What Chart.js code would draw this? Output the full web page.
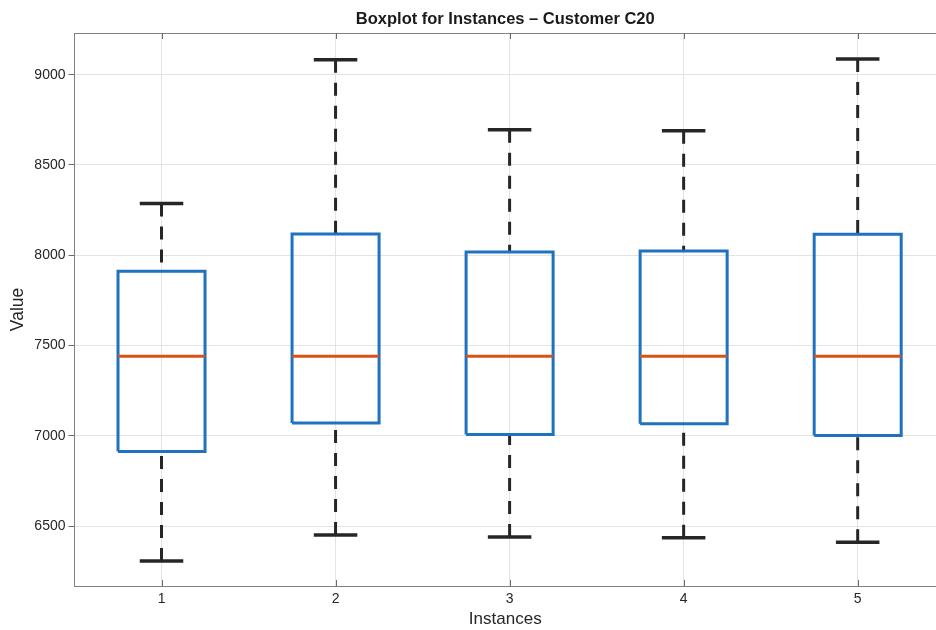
<!DOCTYPE html>
<html>
<head>
<meta charset="utf-8">
<script src="https://cdn.jsdelivr.net/npm/chart.js@4.4.1/dist/chart.umd.min.js"></script>
<style>
  html, body { margin: 0; padding: 0; background: #ffffff; }
  #wrap { width: 936px; height: 630px; }
</style>
</head>
<body>
<div id="wrap"><canvas id="c" width="936" height="630"></canvas></div>
<script>
// ---- data ----
const categories   = ['1', '2', '3', '4', '5'];
const categoryPos  = [1, 2, 3, 4, 5];
const whiskerLow   = [6306, 6450, 6439, 6435, 6410];
const quartile1    = [6913, 7071, 7007, 7066, 7002];
const medianVals   = [7441, 7441, 7441, 7441, 7441];
const quartile3    = [7911, 8118, 8018, 8024, 8116];
const whiskerHigh  = [8286, 9083, 8695, 8690, 9087];
const yTickValues  = [6500, 7000, 7500, 8000, 8500, 9000];

const chartTitle = 'Boxplot for Instances \u2013 Customer C20';
const xTitle = 'Instances';
const yTitle = 'Value';

// ---- styles ----
const BOX_HALF = 0.25;
const CAP_HALF = 0.125;
const boxColor = '#1f72bd';
const medColor = '#d95319';
const whiskColor = '#262626';
const fontFamily = '"Liberation Sans", Arial, Helvetica, sans-serif';

const datasets = [];
categoryPos.forEach((p, i) => {
  // median (on top)
  datasets.push({
    data: [{x: p - BOX_HALF, y: medianVals[i]}, {x: p + BOX_HALF, y: medianVals[i]}],
    borderColor: medColor, borderWidth: 3, order: 0
  });
  // box
  datasets.push({
    data: [
      {x: p - BOX_HALF, y: quartile1[i]}, {x: p + BOX_HALF, y: quartile1[i]},
      {x: p + BOX_HALF, y: quartile3[i]}, {x: p - BOX_HALF, y: quartile3[i]},
      {x: p - BOX_HALF, y: quartile1[i]}
    ],
    borderColor: boxColor, borderWidth: 3, borderJoinStyle: 'miter', order: 1
  });
  // caps
  datasets.push({
    data: [{x: p - CAP_HALF, y: whiskerHigh[i]}, {x: p + CAP_HALF, y: whiskerHigh[i]}],
    borderColor: whiskColor, borderWidth: 3.5, order: 2
  });
  datasets.push({
    data: [{x: p - CAP_HALF, y: whiskerLow[i]}, {x: p + CAP_HALF, y: whiskerLow[i]}],
    borderColor: whiskColor, borderWidth: 3.5, order: 2
  });
  // whiskers
  datasets.push({
    data: [{x: p, y: whiskerHigh[i]}, {x: p, y: quartile3[i]}],
    borderColor: whiskColor, borderWidth: 3, borderDash: [13, 10], order: 3
  });
  datasets.push({
    data: [{x: p, y: whiskerLow[i]}, {x: p, y: quartile1[i]}],
    borderColor: whiskColor, borderWidth: 3, borderDash: [13, 10], order: 3
  });
});
datasets.forEach(d => {
  d.showLine = true; d.pointRadius = 0; d.pointHoverRadius = 0; d.fill = false;
  d.borderCapStyle = 'butt'; d.tension = 0;
});

const framePlugin = {
  id: 'frame',
  afterDraw(chart) {
    const ctx = chart.ctx;
    const a = chart.chartArea;
    const xs = chart.scales.x;
    ctx.save();
    // top border
    ctx.strokeStyle = '#808080';
    ctx.lineWidth = 1;
    ctx.beginPath();
    ctx.moveTo(a.left, a.top + 0.5);
    ctx.lineTo(a.right, a.top + 0.5);
    ctx.stroke();
    // inward x ticks top & bottom
    ctx.strokeStyle = '#6a6a6a';
    xs.ticks.forEach(t => {
      const px = Math.round(xs.getPixelForValue(t.value)) + 0.5;
      ctx.beginPath();
      ctx.moveTo(px, a.top); ctx.lineTo(px, a.top + 6);
      ctx.moveTo(px, a.bottom); ctx.lineTo(px, a.bottom - 6);
      ctx.stroke();
    });
    // title centred on plot area
    ctx.fillStyle = '#1a1a1a';
    ctx.font = 'bold 16.5px ' + fontFamily;
    ctx.textAlign = 'center';
    ctx.textBaseline = 'middle';
    ctx.fillText(chartTitle, (a.left + a.right) / 2, 19);
    ctx.restore();
  }
};

new Chart(document.getElementById('c'), {
  type: 'scatter',
  data: { datasets },
  options: {
    responsive: false,
    animation: false,
    devicePixelRatio: 1,
    events: [],
    layout: { padding: { top: 33, left: 8, right: 0, bottom: 0 } },
    plugins: { legend: { display: false }, tooltip: { enabled: false }, title: { display: false } },
    scales: {
      x: {
        type: 'linear',
        min: 0.5, max: 5.45,
        afterBuildTicks: s => { s.ticks = categoryPos.map(v => ({ value: v })); },
        afterFit: s => { s.height = 44; },
        ticks: {
          callback: (v) => { const i = categoryPos.indexOf(v); return i >= 0 ? categories[i] : ''; },
          color: '#262626', font: { family: fontFamily, size: 14 }, padding: 5, maxRotation: 0
        },
        grid: { color: '#e3e3e3', lineWidth: 1, drawTicks: false },
        border: { display: true, color: '#808080', width: 1 },
        title: { display: true, text: xTitle, color: '#262626', font: { family: fontFamily, size: 17 }, padding: 0 }
      },
      y: {
        type: 'linear',
        min: 6168, max: 9231,
        afterBuildTicks: s => { s.ticks = yTickValues.map(v => ({ value: v })); },
        afterFit: s => { s.width = 66.5; },
        ticks: {
          callback: v => String(v),
          color: '#262626', font: { family: fontFamily, size: 14 }, padding: 3
        },
        grid: { color: '#e3e3e3', lineWidth: 1, drawTicks: true, tickLength: 6, tickColor: '#6a6a6a' },
        border: { display: true, color: '#808080', width: 1 },
        title: { display: true, text: yTitle, color: '#262626', font: { family: fontFamily, size: 17.5 }, padding: 0 }
      }
    }
  },
  plugins: [framePlugin]
});
</script>
</body>
</html>
